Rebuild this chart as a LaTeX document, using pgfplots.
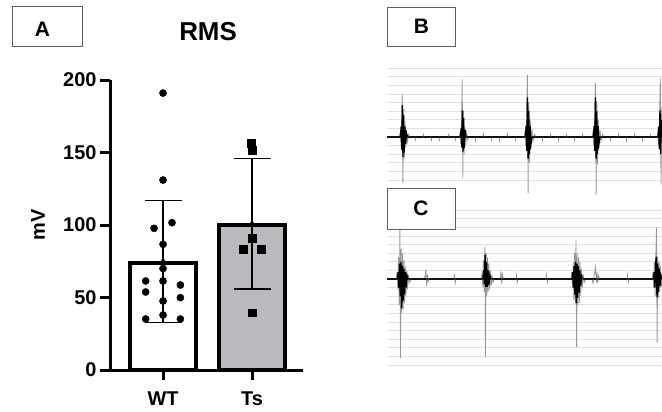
\documentclass[border=0pt]{standalone}
\usepackage{fontspec}
\setmainfont{Liberation Sans}
\usepackage{pgfplots}
\pgfplotsset{compat=1.18}
\definecolor{tsgray}{RGB}{186,187,191}
\definecolor{gridgray}{RGB}{225,225,225}
\definecolor{tracegray}{RGB}{150,150,150}
\definecolor{boxgray}{RGB}{95,95,95}

\pgfplotsset{
  trace/.style={scale only axis, width=275bp, xmin=0, xmax=275,
    anchor=south west, axis line style={draw=none}, xtick=\empty,
    yticklabels={}, tick style={draw=none}, ymajorgrids,
    grid style={gridgray, line width=0.9bp}},
}
\tikzset{panel/.style={draw=boxgray, line width=0.9bp, fill=white}}

\begin{document}
\begin{tikzpicture}
\path[use as bounding box] (0,0) rectangle (662bp,-412bp);

% panel A: RMS
\begin{axis}[
  at={(110bp,-370bp)}, anchor=south west, scale only axis,
  width=193bp, height=290bp,
  xmin=-0.596, xmax=1.573, ymin=0, ymax=200,
  axis lines=left, axis line style={-, line width=3bp},
  x axis line style={shorten <=-10bp},
  xtick={0,1}, xticklabels={WT,Ts},
  ytick={0,50,100,150,200},
  tick align=outside, major tick length=10bp,
  tick style={line width=3bp, black},
  ticklabel style={font=\bfseries\fontsize{20}{20}\selectfont},
  xticklabel style={yshift=-8bp},
  /pgf/number format/assume math mode=true,
  ylabel={mV},
  ylabel style={at={(axis description cs:-0.373,0.5)}, anchor=center,
    font=\bfseries\fontsize{20}{20}\selectfont},
  title={RMS},
  title style={at={(axis description cs:0.508,1.145)}, anchor=center,
    font=\bfseries\fontsize{26}{26}\selectfont},
  clip=false,
]
\addplot[ybar, bar width=0.75, bar shift=0pt, fill=white, draw=black, line width=4bp]
  coordinates {(0,74)};
\addplot[ybar, bar width=0.75, bar shift=0pt, fill=tsgray, draw=black, line width=4bp]
  coordinates {(1,100)};
\addplot[black, only marks, mark=none,
  error bars/.cd, y dir=both, y explicit, error mark=-,
  error bar style={line width=1.3bp, black},
  error mark options={rotate=90, line width=1.3bp, mark size=18.5bp, black}]
  coordinates {(0,75) +- (0,42) (1,100.8) +- (0,45)};
\addplot[only marks, mark=*, mark size=3.6bp, black] coordinates {
  (0,191) (0,131) (0.101,101.6) (-0.101,97.7) (0,86.7) (0,70)
  (-0.195,61.4) (0,61.4) (0.195,58.6) (-0.195,53.8) (0.195,49.9)
  (0,47.6) (0,37.9) (-0.195,35.2) (0.195,35.2)};
\addplot[only marks, mark=square*, mark size=3.9bp, black] coordinates {
  (0.995,156.5) (1.005,151.5) (1,90.8) (0.899,83.4) (1.101,83.4) (1,39.5)};
\end{axis}

% panel B: trace
\begin{axis}[trace, at={(387bp,-197.2bp)}, height=133.3bp,
  ymin=-7, ymax=8.5, ytick={-5,...,8}]
\addplot[black, line width=2.2bp] coordinates {(0,0) (275,0)};
\addplot[tracegray, line width=0.8bp] coordinates {
  (0,0) (12,0) (13,0.4) (13.8,-0.6) (14.5,1.5) (15.2,5.0) (15.9,-5.35)
  (16.6,3.2) (17.3,-2.5) (18,1.8) (18.8,-1.2) (19.6,0.8) (20.5,-0.5)
  (21.5,0.3) (23,0)
  (28,0) (28.5,-0.3) (29,0) (36,0) (36.5,0.25) (37,0) (44,0) (44.5,-0.35)
  (45,0) (52,0) (52.5,-0.3) (53,0) (61,0) (61.5,0.25) (62,0) (68,0)
  (68.5,-0.3) (69,0)
  (72,0) (73,0.5) (73.8,-0.8) (74.6,2.0) (75.2,6.7) (75.8,-4.8) (76.5,3.0)
  (77.2,-2.0) (78,1.3) (78.8,-0.9) (79.7,0.5) (80.8,-0.3) (82,0)
  (88,0) (88.5,-0.4) (89,0) (96,0) (96.5,0.3) (97,0) (104,0) (104.5,-0.3)
  (105,0) (112,0) (112.5,-0.4) (113,0) (120,0) (120.5,0.3) (121,0)
  (128,0) (128.5,-0.3) (129,0)
  (137,0) (138,0.6) (138.8,-1.0) (139.6,2.5) (140.4,7.2) (141.1,-6.5)
  (141.8,4.0) (142.5,-3.0) (143.3,2.0) (144.1,-1.4) (145,0.9) (146,-0.5)
  (147.5,0.3) (149,0)
  (155,0) (155.5,-0.35) (156,0) (163,0) (163.5,0.3) (164,0) (171,0)
  (171.5,-0.4) (172,0) (179,0) (179.5,0.25) (180,0) (187,0) (187.5,-0.35)
  (188,0) (195,0) (195.5,0.3) (196,0)
  (205,0) (206,0.6) (206.8,-1.0) (207.6,2.6) (208.4,6.3) (209.1,-6.7)
  (209.8,4.2) (210.5,-3.2) (211.3,2.0) (212.1,-1.3) (213,0.8) (214,-0.5)
  (215.5,0.3) (217,0)
  (223,0) (223.5,-0.3) (224,0) (231,0) (231.5,0.3) (232,0) (239,0)
  (239.5,-0.4) (240,0) (247,0) (247.5,0.3) (248,0) (255,0) (255.5,-0.35)
  (256,0) (263,0) (263.5,0.25) (264,0)
  (270,0) (271,0.5) (271.8,-1.0) (272.6,2.5) (273.3,6.9) (274,-5.5)
  (274.7,3.5) (275,0)};
\addplot[black, line width=1.4bp] coordinates {
  (0,0) (13.5,0) (14.2,1.2) (14.8,-1.5) (15.4,3.7) (16.0,-2.3) (16.6,2.5)
  (17.2,-1.8) (17.9,1.2) (18.6,-0.8) (19.5,0.4) (20.5,0)
  (73.5,0) (74.2,1.0) (74.8,-1.2) (75.4,3.1) (76.0,-1.7) (76.6,2.2)
  (77.2,-1.3) (78,0.8) (79,0)
  (138.5,0) (139.2,1.3) (139.8,-1.6) (140.5,4.6) (141.1,-2.5) (141.7,3.0)
  (142.3,-2.0) (143,1.3) (143.8,-0.8) (145,0)
  (206.5,0) (207.2,1.3) (207.8,-1.6) (208.5,4.6) (209.1,-2.5) (209.7,3.0)
  (210.3,-2.0) (211,1.3) (211.8,-0.8) (213,0)
  (271,0) (271.7,1.2) (272.3,-1.4) (273,3.1) (273.6,-2) (274.2,2) (275,0)};
\end{axis}

% panel C: trace
\begin{axis}[trace, at={(387bp,-365bp)}, height=159.1bp,
  ymin=-10, ymax=8.5, ytick={-10,...,8}]
\addplot[black, line width=2.2bp] coordinates {(0,0) (275,0)};
\addplot[tracegray, line width=0.8bp] coordinates {
  (0,0) (9,0) (10,0.8) (10.8,-1.2) (11.5,2.5) (12.2,-3.0) (12.9,5.7)
  (13.5,-9.2) (14.1,3.5) (14.8,-4.0) (15.5,3.0) (16.2,-3.5) (16.9,2.2)
  (17.6,-2.8) (18.3,1.5) (19,-2.0) (19.8,1.0) (20.6,-1.2) (21.5,0.5)
  (22.5,-0.4) (24,0)
  (37,0) (38,0.3) (38.8,1.1) (39.6,-0.8) (40.4,0.5) (41.2,-0.3) (42,0)
  (67,0) (67.6,0.6) (68.2,-0.5) (69,0)
  (94,0) (95,0.6) (95.8,-0.9) (96.5,2.2) (97.2,-1.5) (97.9,3.7) (98.5,-9.1)
  (99.1,3.0) (99.8,-2.0) (100.5,2.5) (101.2,-1.5) (101.9,1.8) (102.6,-1.2)
  (103.4,1.0) (104.2,-0.8) (105,0.5) (106,-0.4) (107,0)
  (113,0) (114,0.9) (114.8,-0.6) (115.6,0.5) (116.5,0)
  (129,0) (129.6,0.5) (130.2,-0.4) (131,0)
  (159,0) (159.6,0.5) (160.2,-0.4) (161,0)
  (184,0) (184.8,0.8) (185.5,-1.0) (186.2,2.0) (186.9,-2.5) (187.6,3.0)
  (188.3,-2.2) (189,4.5) (189.6,-7.9) (190.2,3.0) (190.9,-3.0) (191.6,2.5)
  (192.3,-2.8) (193,2.0) (193.7,-2.0) (194.5,1.2) (195.3,-1.0) (196.2,0.6)
  (197.2,-0.4) (198.5,0)
  (205,0) (206,-0.5) (207,0.3) (208.5,1.4) (209.3,-0.4) (210,0.8)
  (210.8,-0.5) (211.6,0.4) (212.5,0)
  (240,0) (240.6,0.5) (241.2,-0.4) (242,0)
  (265,0) (266,0.8) (266.7,-1.0) (267.4,2.0) (268.1,-2.0) (268.8,2.6)
  (269.5,6.0) (270.1,-7.4) (270.7,2.5) (271.4,-2.2) (272.1,2.0)
  (272.8,-1.5) (273.5,1.5) (274.2,-1.0) (275,0)};
\addplot[black, line width=1.4bp] coordinates {
  (0,0) (10.5,0) (11.2,0.8) (11.9,-1.0) (12.6,1.8) (13.3,-2.0) (14,2.0)
  (14.7,-3.4) (15.4,1.5) (16.1,-2.5) (16.8,1.2) (17.5,-1.8) (18.2,0.8)
  (19,-1.0) (20,0.4) (21,0)
  (96,0) (96.7,1.0) (97.4,-0.6) (98.1,2.8) (98.8,-0.9) (99.5,2.0)
  (100.2,-0.9) (101,1.0) (101.8,-0.7) (102.8,0.4) (104,0)
  (185,0) (185.7,0.8) (186.4,-1.0) (187.1,1.5) (187.8,-1.8) (188.5,2.0)
  (189.2,-2.8) (189.9,1.8) (190.6,-2.2) (191.3,1.5) (192,-1.6) (192.8,1.0)
  (193.6,-0.8) (194.6,0.3) (195.5,0)
  (266.5,0) (267.2,0.8) (267.9,-1.0) (268.6,1.6) (269.3,2.6) (270,-2.1)
  (270.7,1.8) (271.4,-1.5) (272.1,1.2) (273,-0.8) (274,0.4) (275,0)};
\end{axis}

% panel letters
\draw[panel] (12.7bp,-6.7bp) rectangle (82bp,-46bp);
\node[font=\bfseries\fontsize{21}{21}\selectfont] at (42.5bp,-29.2bp) {A};
\draw[panel] (387bp,-7bp) rectangle (455bp,-46bp);
\node[font=\bfseries\fontsize{21}{21}\selectfont] at (421.5bp,-26.7bp) {B};
\draw[panel] (387bp,-188bp) rectangle (455bp,-229bp);
\node[font=\bfseries\fontsize{21}{21}\selectfont] at (421bp,-208.7bp) {C};
\end{tikzpicture}
\end{document}
